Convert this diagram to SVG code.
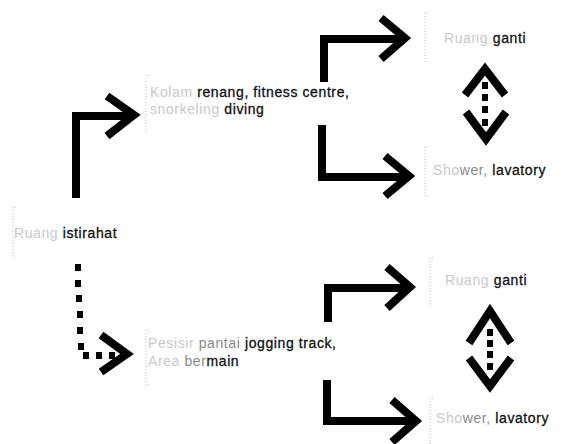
<svg xmlns="http://www.w3.org/2000/svg" width="561" height="444" viewBox="0 0 561 444">
<style>
.t{font-family:"Liberation Sans",Arial,sans-serif;font-size:14px;letter-spacing:0.6px;fill:#111;stroke:#111;stroke-width:0.3}
.f{fill:#c9c9c9;stroke:none}
.g{fill:#8a8a8a;stroke:none}
.b{fill:none;stroke:#bdbdbd;stroke-width:1;stroke-dasharray:1 2}
.a{fill:none;stroke:#000;stroke-width:8;stroke-linejoin:miter;stroke-miterlimit:10;stroke-linecap:butt}
.d{fill:#000}
</style>
<rect width="561" height="444" fill="#fff"/>
<g id="connectors">
<path class="a" d="M76,198 V116 H134"/>
<path class="a" d="M107,96 L134,115 L107,136"/>
<path class="a" d="M324,82 V39 H405"/>
<path class="a" d="M381,18 L405,38 L381,59"/>
<path class="a" d="M322,125 V177 H409"/>
<path class="a" d="M385,156 L409,176 L385,196"/>
<path class="a" d="M328,322 V288 H410"/>
<path class="a" d="M387,267 L410,287 L387,308"/>
<path class="a" d="M327,380 V421 H416"/>
<path class="a" d="M392,400 L416,421 L392,442"/>
<g id="dotted-arrow">
<rect class="d" x="75" y="264" width="6" height="7"/>
<rect class="d" x="75" y="280" width="6" height="7"/>
<rect class="d" x="76" y="295" width="6" height="7"/>
<rect class="d" x="77" y="311" width="6" height="7"/>
<rect class="d" x="77" y="327" width="6" height="7"/>
<rect class="d" x="78" y="343" width="6" height="7"/>
<rect class="d" x="83" y="352" width="6" height="7"/>
<rect class="d" x="96" y="352" width="6" height="7"/>
<rect class="d" x="109" y="352" width="6" height="7"/>
<path class="a" d="M101,335 L127,354 L101,372"/>
</g>
<g id="double-arrow-top">
<path class="a" d="M465,95 L485,69 L505,95"/>
<rect class="d" x="482" y="82" width="6" height="7"/>
<rect class="d" x="482" y="94" width="6" height="7"/>
<rect class="d" x="482" y="106" width="6" height="7"/>
<rect class="d" x="482" y="119" width="6" height="7"/>
<path class="a" d="M466,112 L486,139 L506,112"/>
</g>
<g id="double-arrow-bottom">
<path class="a" d="M469,343 L490,311 L511,343"/>
<rect class="d" x="487" y="329" width="6" height="7"/>
<rect class="d" x="487" y="340" width="6" height="7"/>
<rect class="d" x="487" y="351" width="6" height="7"/>
<rect class="d" x="487" y="363" width="6" height="7"/>
<path class="a" d="M469,358 L490,386 L511,358"/>
</g>
</g>
<g id="node-kolam">
<path class="b" d="M149,75 H146 V132 H149"/>
<text class="t" x="150" y="97"><tspan class="f">Kolam </tspan>renang, fitness centre,</text>
<text class="t" x="150" y="114"><tspan class="f">snorkeling </tspan>diving</text>
</g>
<g id="node-istirahat">
<path class="b" d="M16,207 H13 V258 H16"/>
<text class="t" x="14" y="238" letter-spacing="1"><tspan class="f">Ruang </tspan>istirahat</text>
</g>
<g id="node-pantai">
<path class="b" d="M149,330 H146 V385 H149"/>
<text class="t" x="148" y="348"><tspan class="f">Pesisir </tspan><tspan class="g">pantai </tspan>jogging track,</text>
<text class="t" x="148" y="366"><tspan class="f">Area </tspan><tspan class="g">ber</tspan>main</text>
</g>
<g id="node-ganti-1">
<path class="b" d="M428,13 H425 V62 H428"/>
<text class="t" x="444" y="43" letter-spacing="1"><tspan class="f">Ruang </tspan>ganti</text>
</g>
<g id="node-shower-1">
<path class="b" d="M428,147 H425 V196 H428"/>
<text class="t" x="433" y="175"><tspan class="f">Sho</tspan><tspan class="g">wer,</tspan> lavatory</text>
</g>
<g id="node-ganti-2">
<path class="b" d="M433,258 H430 V306 H433"/>
<text class="t" x="445" y="285"><tspan class="f">Ruang </tspan>ganti</text>
</g>
<g id="node-shower-2">
<path class="b" d="M433,398 H430 V444"/>
<text class="t" x="436" y="423"><tspan class="f">Sho</tspan><tspan class="g">wer,</tspan> lavatory</text>
</g>
</svg>
